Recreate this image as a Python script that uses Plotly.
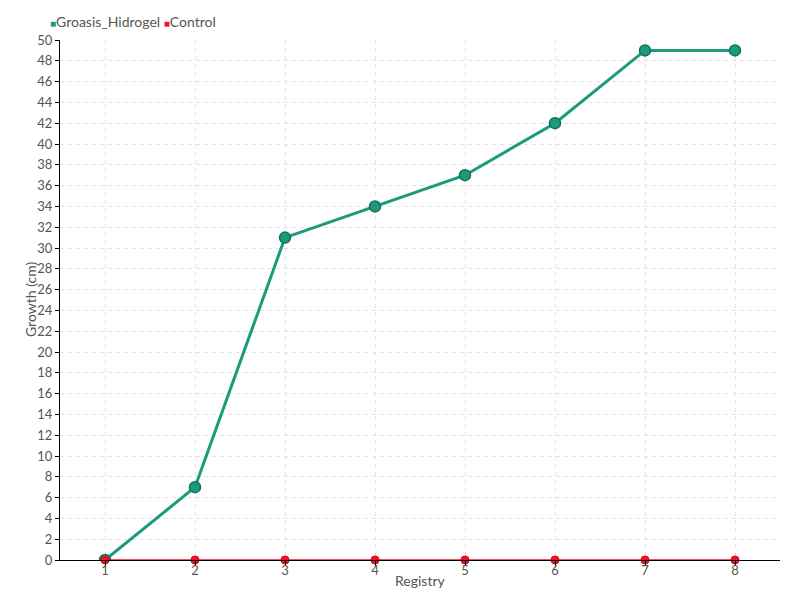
import plotly.graph_objects as go

registry = [1, 2, 3, 4, 5, 6, 7, 8]
groasis_hidrogel = [0, 7, 31, 34, 37, 42, 49, 49]
control = [0, 0, 0, 0, 0, 0, 0, 0]

FONT = "Lato, Roboto, sans-serif"
GRID = "#e2e2e2"
GREEN = "#1b9a7c"
RED = "#f0102a"

fig = go.Figure()
fig.add_trace(go.Scatter(
    x=registry, y=groasis_hidrogel, name="Groasis_Hidrogel",
    mode="lines+markers",
    line=dict(color=GREEN, width=3),
    marker=dict(color=GREEN, size=11, line=dict(color="#16705a", width=1.5)),
))
fig.add_trace(go.Scatter(
    x=registry, y=control, name="Control",
    mode="lines+markers",
    line=dict(color="#ff0a2a", width=1.5),
    marker=dict(color=RED, size=8, line=dict(color="#d0001c", width=1)),
    cliponaxis=False,
))

# legend drawn as text with coloured squares
fig.add_annotation(
    xref="paper", yref="paper", x=-0.017, y=1.0, xanchor="left", yanchor="middle",
    yshift=19, showarrow=False,
    text=(f"<span style='color:{GREEN};font-size:10px'>■</span>Groasis_Hidrogel "
          f"<span style='color:{RED};font-size:10px'>■</span>Control"),
    font=dict(family=FONT, size=14, color="#555"),
)
# axis titles
fig.add_annotation(
    xref="paper", yref="paper", x=0.5, y=0, yanchor="middle", yshift=-20,
    showarrow=False, text="Registry", font=dict(family=FONT, size=14, color="#555"),
)
fig.add_annotation(
    xref="paper", yref="paper", x=0, y=0.5, xanchor="center", xshift=-30,
    textangle=-90, showarrow=False, text="Growth (cm)",
    font=dict(family=FONT, size=14, color="#555"),
)

# page body has an 8px margin, so margins are trimmed to land the plot at 60..780 x 40..560
fig.update_layout(
    width=800, height=600,
    margin=dict(l=52, r=28, t=32, b=48, autoexpand=False),
    plot_bgcolor="white", paper_bgcolor="white",
    font=dict(family=FONT, size=13, color="#555"),
    showlegend=False,
    xaxis=dict(
        tickmode="array", tickvals=registry, ticktext=[str(r) for r in registry],
        range=[0.5, 8.5],
        showgrid=True, gridcolor=GRID, griddash="4px,4px", gridwidth=1,
        showline=True, linecolor="black", linewidth=1,
        ticks="outside", ticklen=5, tickcolor="black", ticklabelstandoff=-7,
        zeroline=False, automargin=False,
    ),
    yaxis=dict(
        range=[0, 50], dtick=2,
        showgrid=True, gridcolor=GRID, griddash="4px,4px", gridwidth=1,
        showline=True, linecolor="black", linewidth=1,
        ticks="outside", ticklen=4, tickcolor="black",
        zeroline=False, automargin=False,
    ),
)

fig.write_html("out.html")
